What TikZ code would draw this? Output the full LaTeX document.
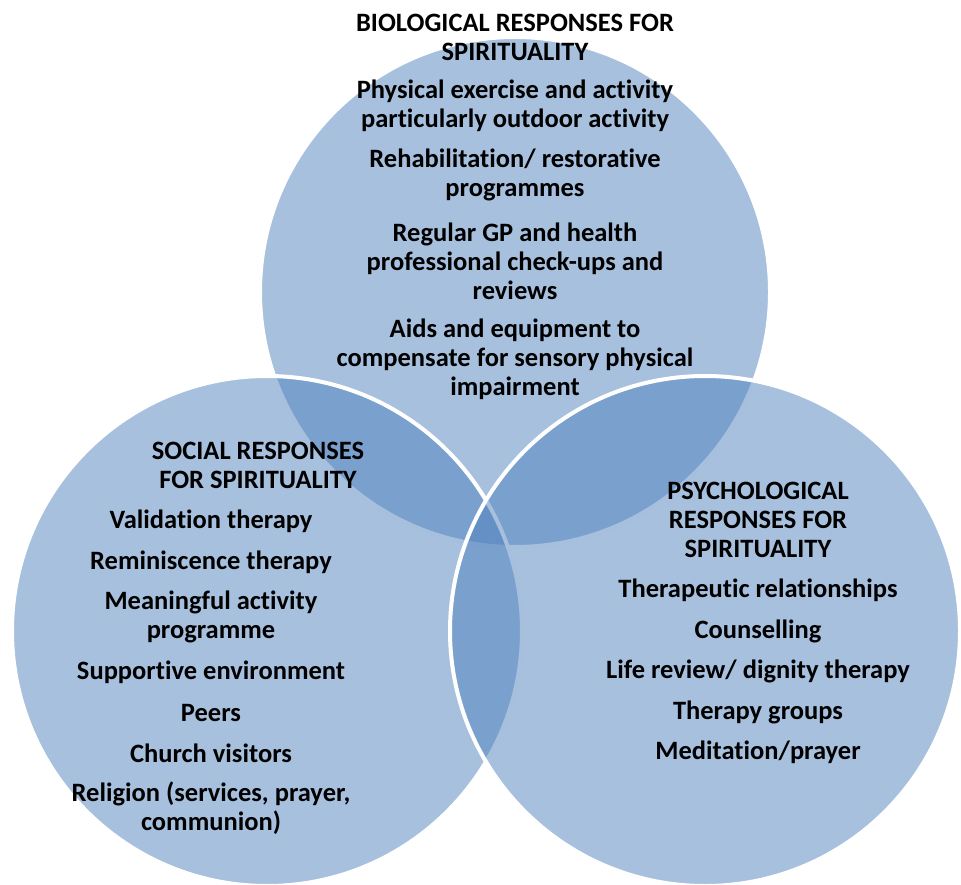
\documentclass[tikz,border=0pt]{standalone}
\usepackage{fontspec}
\setmainfont{Carlito}[Ligatures=NoCommon]
\definecolor{venncol}{RGB}{79,129,189}
\begin{document}
\begin{tikzpicture}
[x=1pt,y=-1pt,
  circledecorate/.style={fill=venncol,fill opacity=0.5,draw=white,line width=4pt},%
  textdecorate/.style={font=\bfseries\fontsize{26.5}{29}\selectfont,align=center,inner sep=0pt}]
\useasboundingbox (0,0) rectangle (961,885);
%% circles
\foreach \circname/\x/\y in {bio/515/292, soc/267/631, psy/705/631}
{
  \draw[circledecorate] (\x,\y) circle (255);
  \coordinate (\circname) at (\x,\y);
}
%% headings and items
\foreach \nodename/\x/\y/\txt in {
  biohead/515/37/{BIOLOGICAL RESPONSES FOR\\SPIRITUALITY},
  bio1/515/106/{Physical exercise and activity\\particularly outdoor activity},
  bio2/515/175/{Rehabilitation/ restorative\\programmes},
  bio3/515/261/{Regular GP and health\\professional check-ups and\\reviews},
  bio4/515/359/{Aids and equipment to\\compensate for sensory physical\\impairment},
  sochead/258/465/{SOCIAL RESPONSES\\FOR SPIRITUALITY},
  soc1/211/521/{Validation therapy},
  soc2/211/562/{Reminiscence therapy},
  soc3/211/617/{Meaningful activity\\programme},
  soc4/211/672/{Supportive environment},
  soc5/211/713/{Peers},
  soc6/211/753/{Church visitors},
  soc7/211/808/{Religion (services, prayer,\\communion)},
  psyhead/758/520/{PSYCHOLOGICAL\\RESPONSES FOR\\SPIRITUALITY},
  psy1/758/590/{Therapeutic relationships},
  psy2/758/631/{Counselling},
  psy3/758/671/{Life review/ dignity therapy},
  psy4/758/712/{Therapy groups},
  psy5/758/752/{Meditation/prayer}}
{
  \node (\nodename) at (\x,\y) [textdecorate] {\txt};
}
\end{tikzpicture}
\end{document}
